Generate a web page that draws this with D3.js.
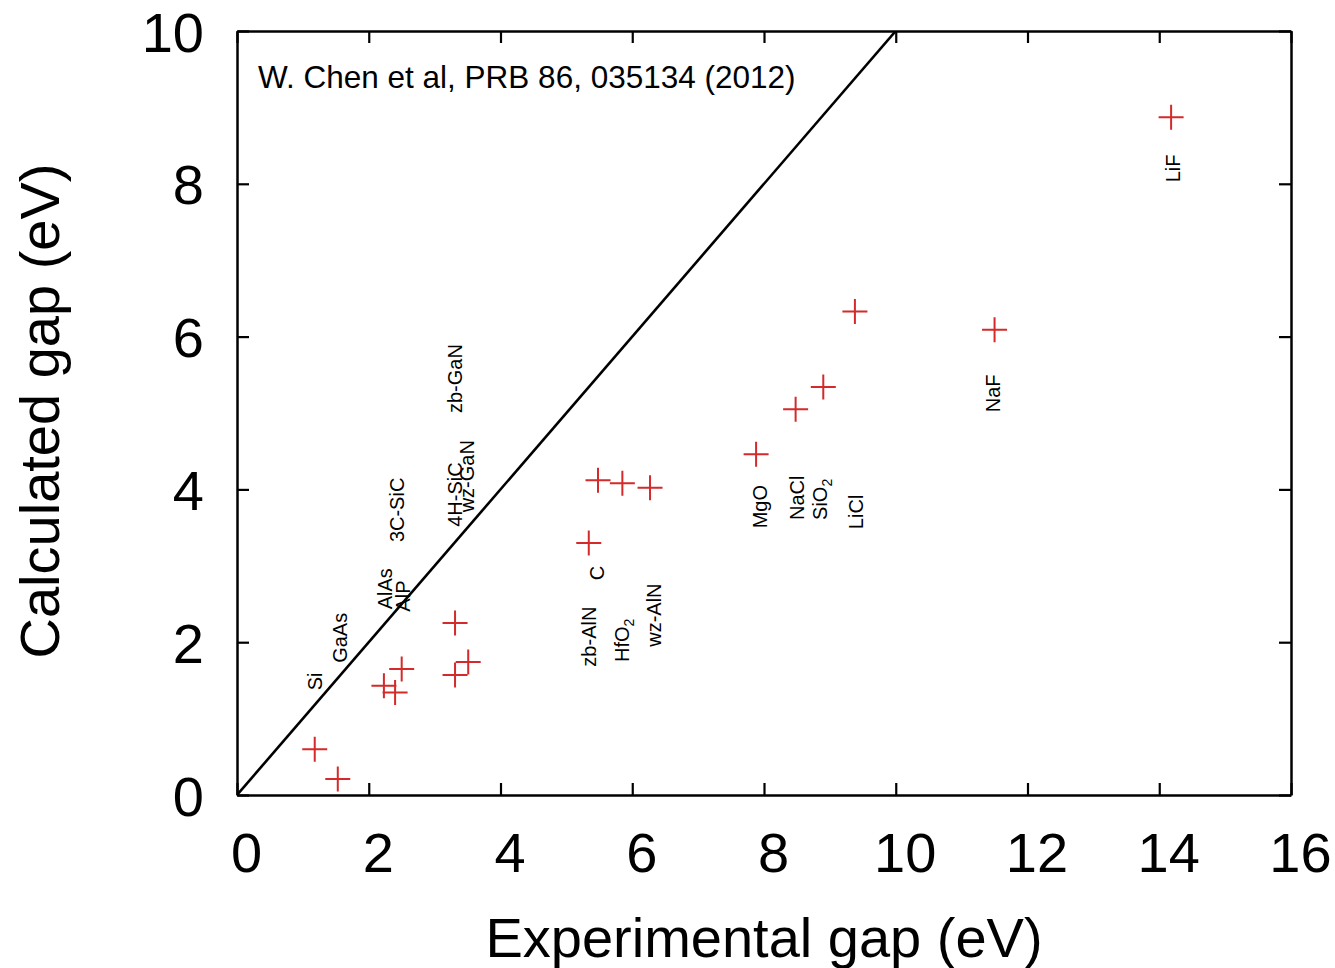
<!DOCTYPE html>
<html><head><meta charset="utf-8">
<script src="https://cdn.jsdelivr.net/npm/d3@7"></script>
<style>body{margin:0;background:#fff} text{font-family:"Liberation Sans",Arial,sans-serif}</style>
</head><body><svg id="c" width="1335" height="968"></svg>
<script>
const materials = ["Si","GaAs","AlAs","AlP","3C-SiC","4H-SiC","zb-GaN","wz-GaN","zb-AlN","C","HfO2","wz-AlN","MgO","NaCl","SiO2","LiCl","NaF","LiF"];
const expGap  = [1.18,1.53,2.23,2.50,2.40,3.31,3.31,3.51,5.34,5.48,5.85,6.27,7.88,8.48,8.90,9.38,11.50,14.18];
const calcGap = [0.60,0.21,1.43,1.65,1.34,2.25,1.57,1.74,3.30,4.12,4.08,4.02,4.46,5.05,5.34,6.33,6.09,8.87];
const labelX  = [1.18,1.56,2.25,2.52,2.43,3.31,3.31,3.49,5.34,5.46,5.84,6.32,7.94,8.50,8.85,9.40,11.48,14.21];
const labelY  = [1.37,1.73,2.43,2.40,3.31,3.51,5.00,3.70,1.68,2.81,1.74,1.94,3.49,3.60,3.60,3.48,5.01,8.02];
const xTicks = [0,2,4,6,8,10,12,14,16];
const yTicks = [0,2,4,6,8,10];
const xDomain = [0,16], yDomain = [0,10];
const diag = [[0,0],[10,10]];
const citation = "W. Chen et al, PRB 86, 035134 (2012)";
const xTitle = "Experimental gap (eV)", yTitle = "Calculated gap (eV)";

const L=237, R=1291, T=31, B=795;
const svg = d3.select("#c");
const x = d3.scaleLinear().domain(xDomain).range([L,R]);
const y = d3.scaleLinear().domain(yDomain).range([B,T]);

svg.append("defs").append("clipPath").attr("id","clip")
  .append("rect").attr("x",L).attr("y",T).attr("width",R-L).attr("height",B-T);

const fs = 56;
function styleAxis(g){
  g.selectAll("path.domain").attr("stroke","#000").attr("stroke-width",2.5);
  g.selectAll(".tick line").attr("stroke","#000").attr("stroke-width",2.2);
  g.selectAll(".tick text").attr("fill","#000").attr("font-size",fs).attr("font-family",'"Liberation Sans",Arial,sans-serif');
}
const gb = svg.append("g").attr("transform",`translate(0,${B})`)
  .call(d3.axisBottom(x).tickValues(xTicks).tickFormat(d3.format("d")).tickSizeInner(-12).tickSizeOuter(0).tickPadding(37));
styleAxis(gb); gb.selectAll(".tick text").attr("dx",9);
const gt = svg.append("g").attr("transform",`translate(0,${T})`)
  .call(d3.axisTop(x).tickValues(xTicks).tickFormat("").tickSizeInner(-12).tickSizeOuter(0));
styleAxis(gt);
const gl = svg.append("g").attr("transform",`translate(${L},0)`)
  .call(d3.axisLeft(y).tickValues(yTicks).tickFormat(d3.format("d")).tickSizeInner(-12).tickSizeOuter(0).tickPadding(33));
styleAxis(gl); gl.selectAll(".tick text").attr("dy","0.36em");
const gr = svg.append("g").attr("transform",`translate(${R},0)`)
  .call(d3.axisRight(y).tickValues(yTicks).tickFormat("").tickSizeInner(-12).tickSizeOuter(0));
styleAxis(gr);

// diagonal y = x
svg.append("path").datum(diag).attr("clip-path","url(#clip)")
  .attr("d", d3.line().x(d=>x(d[0])).y(d=>y(d[1])))
  .attr("stroke","#000").attr("stroke-width",2.6).attr("fill","none");

// crosses
const cs = 12.5;
const pts = svg.append("g").attr("stroke","#d42a2a").attr("stroke-width",2);
materials.forEach((m,i)=>{
  const cx = x(expGap[i]), cy = y(calcGap[i]);
  pts.append("path").attr("d",`M${cx-cs},${cy}H${cx+cs}M${cx},${cy-cs}V${cy+cs}`);
});

// labels
const lg = svg.append("g");
materials.forEach((m,i)=>{
  const t = lg.append("text")
    .attr("transform",`translate(${x(labelX[i])},${y(labelY[i])}) rotate(-90)`)
    .attr("dy","0.36em").attr("font-size",20).attr("fill","#000");
  const mm = m.match(/^(.*[A-Za-z])(\d)$/);
  if(mm){
    t.append("tspan").text(mm[1]);
    t.append("tspan").attr("font-size",14).attr("dy",5).text(mm[2]);
  } else t.text(m);
});

// citation
svg.append("text").attr("x",258).attr("y",88).attr("font-size",31.5).attr("fill","#000").text(citation);

// axis titles
svg.append("text").attr("x",764).attr("y",957).attr("text-anchor","middle").attr("font-size",fs).attr("fill","#000").text(xTitle);
svg.append("text").attr("transform",`translate(59,411) rotate(-90)`).attr("text-anchor","middle").attr("font-size",fs).attr("fill","#000").text(yTitle);
</script></body></html>
